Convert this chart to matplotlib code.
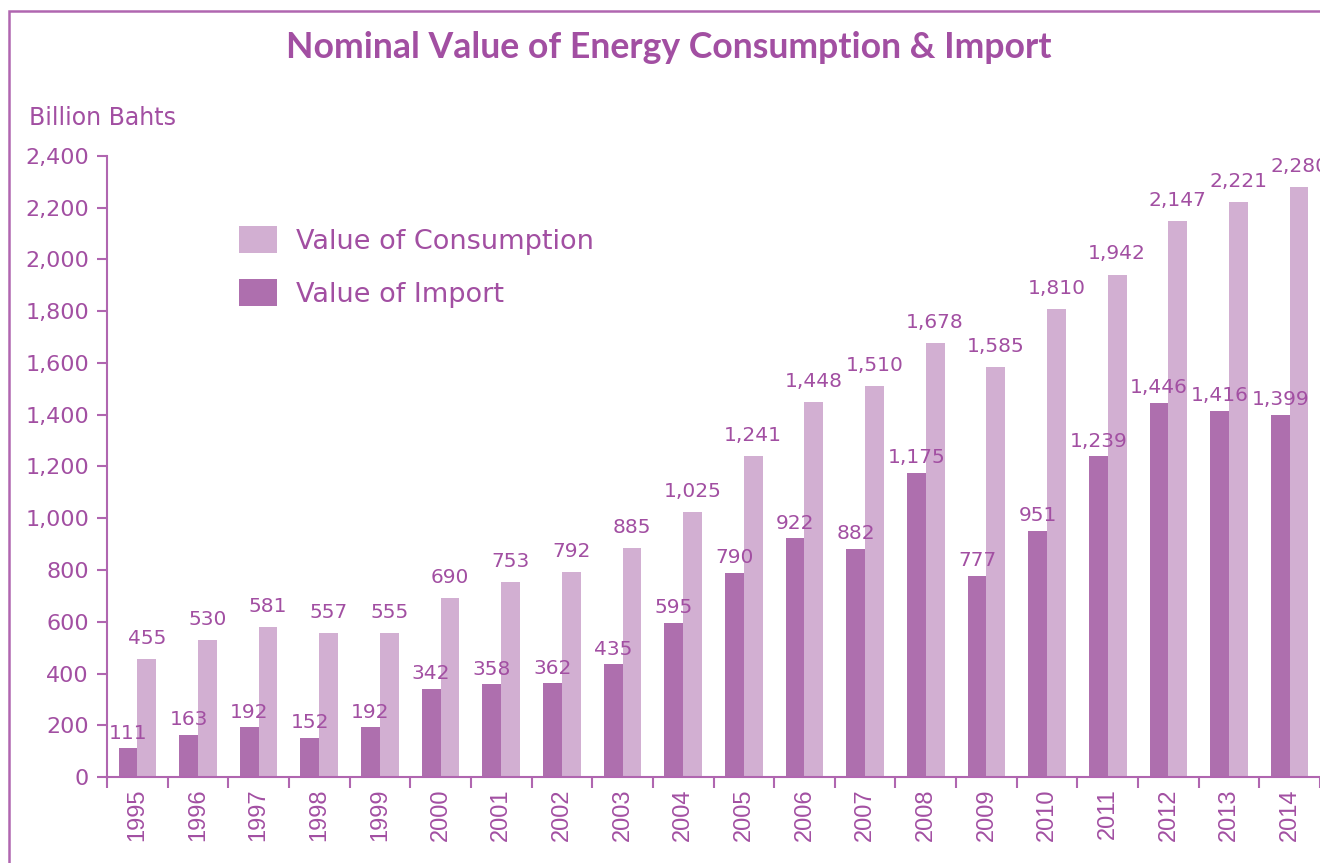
import numpy as np
import matplotlib
matplotlib.use('Agg')
import matplotlib.pyplot as plt
from matplotlib.patches import Rectangle

years = ['1995', '1996', '1997', '1998', '1999', '2000', '2001', '2002', '2003', '2004',
         '2005', '2006', '2007', '2008', '2009', '2010', '2011', '2012', '2013', '2014']
value_import = [111, 163, 192, 152, 192, 342, 358, 362, 435, 595,
                790, 922, 882, 1175, 777, 951, 1239, 1446, 1416, 1399]
value_consumption = [455, 530, 581, 557, 555, 690, 753, 792, 885, 1025,
                     1241, 1448, 1510, 1678, 1585, 1810, 1942, 2147, 2221, 2280]
y_ticks = [0, 200, 400, 600, 800, 1000, 1200, 1400, 1600, 1800, 2000, 2200, 2400]

text_color = '#A24FA2'
line_color = '#B066B0'
dark = '#AE6FAE'
light = '#D2AFD2'

plt.rcParams['font.family'] = ['DejaVu Sans']

fig = plt.figure(figsize=(13.2, 8.63), dpi=100)
ax = fig.add_axes([107 / 1320, 1 - 777 / 863, 1 - 107 / 1320, (777 - 156) / 863])

# outer frame around the chart area
fig.patches.append(Rectangle((9 / 1320, -0.1), 1.2, 1.1 - 11 / 863,
                             transform=fig.transFigure, fill=False,
                             edgecolor=line_color, linewidth=1.8))

x = np.arange(len(years))
w = 0.31
b1 = ax.bar(x - w / 2, value_import, w, color=dark, label='Value of Import')
b2 = ax.bar(x + w / 2, value_consumption, w, color=light, label='Value of Consumption')

for xi, v in zip(x, value_import):
    ax.annotate(f'{v:,}', (xi - w / 2, v), xytext=(0, 4), textcoords='offset points',
                ha='center', va='bottom', fontsize=14.5, color=text_color)
for xi, v in zip(x, value_consumption):
    ax.annotate(f'{v:,}', (xi + w / 2, v), xytext=(0, 8), textcoords='offset points',
                ha='center', va='bottom', fontsize=14.5, color=text_color, clip_on=False)

ax.set_xlim(-0.5, len(years) - 0.5)
ax.set_ylim(0, 2400)
ax.set_yticks(y_ticks)
ax.set_yticklabels([f'{t:,}' for t in y_ticks], fontsize=16, color=text_color)

ax.set_xticks(np.arange(len(years) + 1) - 0.5)
ax.set_xticklabels([])
ax.set_xticks(x, minor=True)
ax.set_xticklabels(years, minor=True, rotation=90, fontsize=17, color=text_color,
                   family='Liberation Sans')
ax.tick_params(axis='x', which='major', direction='out', length=8, color=line_color, width=1.5)
ax.tick_params(axis='x', which='minor', length=0, pad=8)
ax.tick_params(axis='y', direction='out', length=7, color=line_color, width=1.5, pad=6)

for s in ['top', 'right']:
    ax.spines[s].set_visible(False)
for s in ['left', 'bottom']:
    ax.spines[s].set_color(line_color)
    ax.spines[s].set_linewidth(1.5)

fig.text(669 / 1320, 1 - 48 / 863, 'Nominal Value of Energy Consumption & Import',
         ha='center', va='center', fontsize=25.7, fontweight='bold', color=text_color,
         family='Lato')
fig.text(29 / 1320, 1 - 118 / 863, 'Billion Bahts', ha='left', va='center',
         fontsize=17, color=text_color)

leg = ax.legend(handles=[b2, b1], loc='upper left', bbox_to_anchor=(239 / 1320, 1 - 226 / 863),
                bbox_transform=fig.transFigure, frameon=False, fontsize=19.5,
                borderaxespad=0, borderpad=0,
                handlelength=1.4, handleheight=1.15, handletextpad=0.7, labelspacing=0.9)
for t in leg.get_texts():
    t.set_color(text_color)

fig.savefig('out.png', dpi=100)
